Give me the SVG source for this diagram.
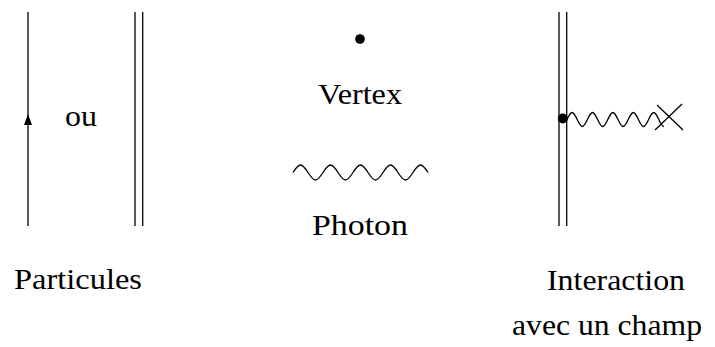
<svg xmlns="http://www.w3.org/2000/svg" width="715" height="347" viewBox="0 0 715 347">
<style>
.ln{stroke:#000;stroke-width:1.3;fill:none}
.lbl{font-family:'Liberation Serif','Times New Roman',serif;font-size:30px;fill:#000;text-anchor:middle}
</style>
<rect width="715" height="347" fill="#fff"/>
<g id="particle-single">
<line class="ln" x1="28" y1="12" x2="28" y2="226"/>
<polygon points="28,114 32,125 24,125" fill="#000"/>
</g>
<text class="lbl" x="81" y="126" textLength="32" lengthAdjust="spacingAndGlyphs">ou</text>
<g id="particle-double">
<line class="ln" x1="135" y1="12" x2="135" y2="226"/>
<line class="ln" x1="142.7" y1="12" x2="142.7" y2="226"/>
</g>
<text class="lbl" x="78" y="289" textLength="128" lengthAdjust="spacingAndGlyphs">Particules</text>
<g id="vertex">
<circle cx="360" cy="39" r="4.8" fill="#000"/>
<text class="lbl" x="360" y="104" textLength="84" lengthAdjust="spacingAndGlyphs">Vertex</text>
</g>
<g id="photon">
<path class="ln" d="M293,172.5 c2.5,-3.93 5,-7.5 7.5,-7.5 s5,3.57 7.5,7.5 s5,7.5 7.5,7.5 s5,-3.57 7.5,-7.5 s5,-7.5 7.5,-7.5 s5,3.57 7.5,7.5 s5,7.5 7.5,7.5 s5,-3.57 7.5,-7.5 s5,-7.5 7.5,-7.5 s5,3.57 7.5,7.5 s5,7.5 7.5,7.5 s5,-3.57 7.5,-7.5 s5,-7.5 7.5,-7.5 s5,3.57 7.5,7.5 s5,7.5 7.5,7.5 s5,-3.57 7.5,-7.5 s5,-7.5 7.5,-7.5 s5,3.57 7.5,7.5"/>
<text class="lbl" x="360" y="235" textLength="96" lengthAdjust="spacingAndGlyphs">Photon</text>
</g>
<g id="interaction">
<line class="ln" x1="559" y1="12" x2="559" y2="226"/>
<line class="ln" x1="566.7" y1="12" x2="566.7" y2="226"/>
<path class="ln" d="M567,119.5 c1.7,-3.66 3.4,-7 5.1,-7 s3.4,3.34 5.1,7 s3.4,7 5.1,7 s3.4,-3.34 5.1,-7 s3.4,-7 5.1,-7 s3.4,3.34 5.1,7 s3.4,7 5.1,7 s3.4,-3.34 5.1,-7 s3.4,-7 5.1,-7 s3.4,3.34 5.1,7 s3.4,7 5.1,7 s3.4,-3.34 5.1,-7 s3.4,-7 5.1,-7 s3.4,3.34 5.1,7 s3.4,7 5.1,7 s3.4,-3.34 5.1,-7 s3.4,-7 5.1,-7 s3.4,3.34 5.1,7 s3.4,7 5.1,7"/>
<circle cx="562.8" cy="118.5" r="5" fill="#000"/>
<line class="ln" x1="657" y1="105" x2="683" y2="130"/>
<line class="ln" x1="655" y1="130" x2="682" y2="104"/>
<text class="lbl" x="616" y="290" textLength="138" lengthAdjust="spacingAndGlyphs">Interaction</text>
<text class="lbl" x="607" y="335" textLength="190" lengthAdjust="spacingAndGlyphs">avec un champ</text>
</g>
</svg>
